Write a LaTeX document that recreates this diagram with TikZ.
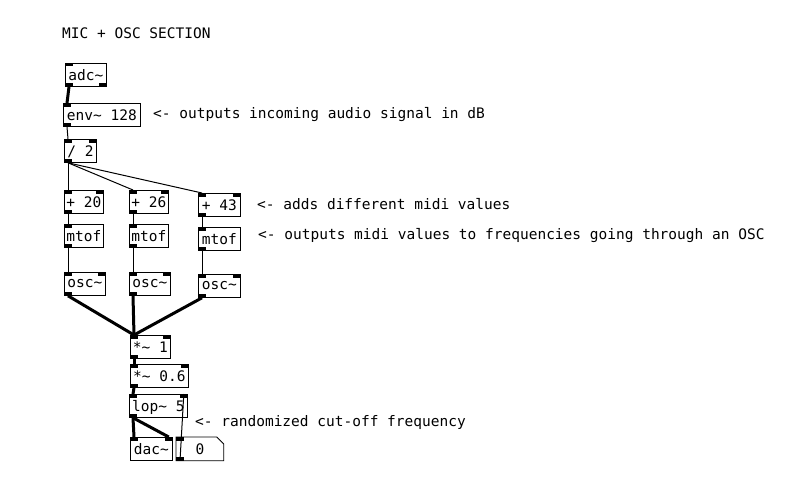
\documentclass[tikz,border=0pt]{standalone}
\usepackage{fontspec}
\setmainfont{DejaVu Sans Mono}
\usetikzlibrary{calc}
\tikzset{
  obj/.style={rectangle, draw, thick, anchor=north west, inner sep=2pt, text depth=0pt,
    minimum height=23pt, font=\fontsize{14.5}{16}\selectfont},
  comment/.style={anchor=west, inner sep=0pt, font=\fontsize{14.5}{16}\selectfont},
  inl/.style={append after command={\pgfextra{\fill (\tikzlastnode.north west) rectangle ++(8,3.5);}}},
  inr/.style={append after command={\pgfextra{\fill (\tikzlastnode.north east) rectangle ++(-8,3.5);}}},
  outl/.style={append after command={\pgfextra{\fill (\tikzlastnode.south west) rectangle ++(8,-3.5);}}},
  outr/.style={append after command={\pgfextra{\fill (\tikzlastnode.south east) rectangle ++(-8,-3.5);}}},
  sig/.style={line width=3pt},
  ctl/.style={line width=1pt}
}
\begin{document}
\begin{tikzpicture}[x=1pt, y=-1pt]
    \useasboundingbox (0,0) rectangle (800,487);

    % comments
    \node (title) [comment] at (62,33) {MIC + OSC SECTION};
    \node (c_env) [comment] at (153,115) {<- outputs incoming audio signal in dB};
    \node (c_add) [comment] at (257,204) {<- adds different midi values};
    \node (c_mtof) [comment] at (258,236) {<- outputs midi values to frequencies going through an OSC};
    \node (c_lop) [comment] at (195,423) {<- randomized cut-off frequency};

    % objects
    \node (adc) [obj, minimum width=41pt, inl, outl, outr] at (65,63) {adc\~{}};
    \node (env) [obj, minimum width=77pt, inl, outl] at (63,103) {env\~{} 128};
    \node (div) [obj, minimum width=32pt, inl, inr, outl] at (64,139) {/ 2};
    \node (add_a) [obj, minimum width=38pt, inl, inr, outl] at (64,190) {+ 20};
    \node (add_b) [obj, minimum width=39pt, inl, inr, outl] at (129,190) {+ 26};
    \node (add_c) [obj, minimum width=42pt, inl, inr, outl] at (198,193) {+ 43};
    \node (mtof_a) [obj, minimum width=38pt, inl, outl] at (64,224) {mtof};
    \node (mtof_b) [obj, minimum width=39pt, inl, outl] at (129,224) {mtof};
    \node (mtof_c) [obj, minimum width=42pt, inl, outl] at (198,227) {mtof};
    \node (osc_a) [obj, minimum width=41pt, inl, inr, outl] at (64,272) {osc\~{}};
    \node (osc_b) [obj, minimum width=41pt, inl, inr, outl] at (129,272) {osc\~{}};
    \node (osc_c) [obj, minimum width=42pt, inl, inr, outl] at (198,274) {osc\~{}};
    \node (mul_a) [obj, minimum width=40pt, inl, inr, outl] at (130,335) {*\~{} 1};
    \node (mul_b) [obj, minimum width=58pt, inl, inr, outl] at (130,364) {*\~{} 0.6};
    \node (lop) [obj, minimum width=58pt, inl, inr, outl] at (129,394) {lop\~{} 5};
    \node (dac) [obj, minimum width=42pt, inl, inr] at (130,437) {dac\~{}};
    \node (num) [obj, draw=none, minimum width=47pt, inl, outl] at (176,437) {0};
    \draw [thick] (num.north west) -- ([xshift=-7pt]num.north east) -- ([yshift=-7pt]num.north east)
        -- (num.south east) -- (num.south west) -- cycle;

    % cables
    \draw [sig] ([xshift=4pt]adc.south west) -- ([xshift=4pt]env.north west);
    \draw [ctl] ([xshift=4pt]env.south west) -- ([xshift=4pt]div.north west);
    \foreach \t in {add_a, add_b, add_c}
        \draw [ctl] ([xshift=4pt]div.south west) -- ([xshift=4pt]\t.north west);
    \foreach \s/\t in {add_a/mtof_a, add_b/mtof_b, add_c/mtof_c, mtof_a/osc_a, mtof_b/osc_b, mtof_c/osc_c}
        \draw [ctl] ([xshift=4pt]\s.south west) -- ([xshift=4pt]\t.north west);
    \foreach \s in {osc_a, osc_b, osc_c}
        \draw [sig] ([xshift=4pt]\s.south west) -- ([xshift=4pt]mul_a.north west);
    \draw [sig] ([xshift=4pt]mul_a.south west) -- ([xshift=4pt]mul_b.north west);
    \draw [sig] ([xshift=4pt]mul_b.south west) -- ([xshift=4pt]lop.north west);
    \draw [sig] ([xshift=4pt]lop.south west) -- ([xshift=4pt]dac.north west);
    \draw [sig] ([xshift=4pt]lop.south west) -- ([xshift=-4pt]dac.north east);
    \draw [ctl] ([xshift=4pt]num.south west) -- ([xshift=-4pt]lop.north east);
\end{tikzpicture}
\end{document}
